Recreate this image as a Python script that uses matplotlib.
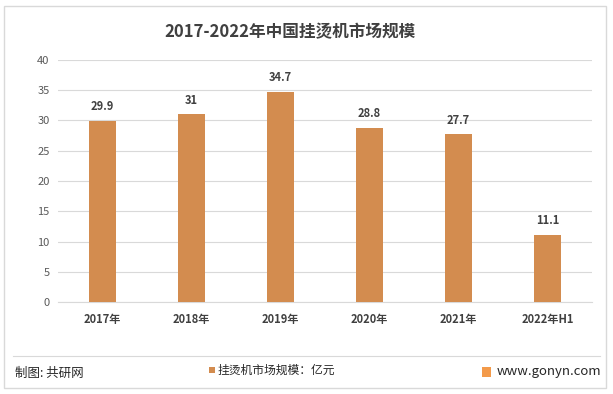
import matplotlib
matplotlib.use("Agg")
import matplotlib.pyplot as plt
from matplotlib.patches import Rectangle, FancyBboxPatch

plt.rcParams['font.family'] = ['Noto Sans CJK SC', 'DejaVu Sans']

categories = ["2017年", "2018年", "2019年", "2020年", "2021年", "2022年H1"]
values = [29.9, 31, 34.7, 28.8, 27.7, 11.1]
labels = ["29.9", "31", "34.7", "28.8", "27.7", "11.1"]
yticks = [0, 5, 10, 15, 20, 25, 30, 35, 40]

W, H = 613, 394
fig = plt.figure(figsize=(W / 100, H / 100), dpi=100)
fig.patch.set_facecolor("white")

# outer border
fig.add_artist(Rectangle((4 / W, 6 / H), 602 / W, 382 / H, transform=fig.transFigure,
                         fill=False, edgecolor="#d9d9d9", linewidth=1))

ax = fig.add_axes([58 / W, (H - 302) / H, 534 / W, 242 / H])
bar_color = "#D38C4F"
x = range(len(categories))
ax.bar(x, values, width=0.31, color=bar_color, zorder=3)
for i, (v, s) in enumerate(zip(values, labels)):
    ax.text(i, v + 1.3, s, ha="center", va="bottom", fontsize=8, color="#404040",
            fontweight="bold")

ax.set_xlim(-0.5, len(categories) - 0.5)
ax.set_ylim(0, 40)
ax.set_yticks(yticks)
ax.set_yticklabels([str(t) for t in yticks], fontsize=8, color="#595959")
ax.set_xticks(list(x))
ax.set_xticklabels(categories, fontsize=8, color="#404040", fontweight="bold")
ax.yaxis.grid(True, color="#d9d9d9", linewidth=0.8, zorder=0)
ax.tick_params(axis="both", length=0, pad=6)
ax.tick_params(axis="x", pad=8)
for side in ["top", "right", "left"]:
    ax.spines[side].set_visible(False)
ax.spines["bottom"].set_color("#d9d9d9")
ax.spines["bottom"].set_linewidth(0.8)

# title
fig.text(290 / W, (H - 32) / H, "2017-2022年中国挂烫机市场规模", ha="center", va="center",
         fontsize=12, fontweight="bold", color="#404040")

# separator line
fig.add_artist(plt.Line2D([13 / W, 600 / W], [(H - 356) / H] * 2, transform=fig.transFigure,
                          color="#d9d9d9", linewidth=0.8))

# footer
fig.text(15 / W, (H - 373) / H, "制图: 共研网", ha="left", va="center", fontsize=9,
         color="#262626")
fig.add_artist(Rectangle((209 / W, (H - 373) / H), 6 / W, 6 / H, transform=fig.transFigure,
                         facecolor=bar_color, edgecolor="none"))
fig.text(218 / W, (H - 370) / H, "挂烫机市场规模：亿元", ha="left", va="center", fontsize=8.5,
         color="#262626")
fig.add_artist(FancyBboxPatch((482 / W, (H - 377) / H), 9 / W, 10 / H,
                              boxstyle="square,pad=0", transform=fig.transFigure,
                              facecolor="#F39A4A", edgecolor="none"))
fig.text(601 / W, (H - 372) / H, "www.gonyn.com", ha="right", va="center", fontsize=9.5,
         color="#262626")

fig.savefig("out.png", dpi=100, facecolor="white")
